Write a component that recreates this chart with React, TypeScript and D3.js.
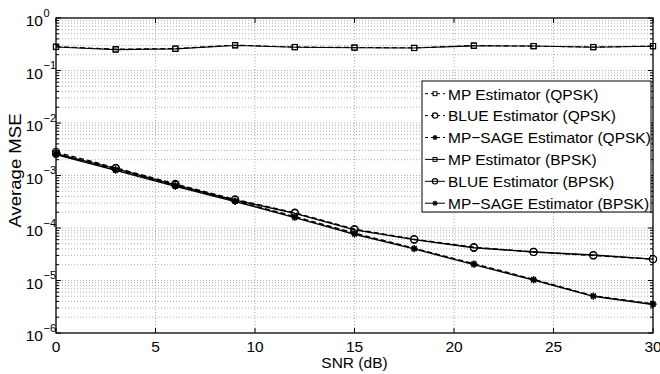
import { useMemo } from 'react';
import * as d3 from 'd3';

const snr = [0, 3, 6, 9, 12, 15, 18, 21, 24, 27, 30];

const mpQpsk = [0.285, 0.255, 0.262, 0.305, 0.28, 0.275, 0.27, 0.3, 0.29, 0.28, 0.292];
const blueQpsk = [2.8e-3, 1.4e-3, 6.9e-4, 3.5e-4, 1.95e-4, 9.5e-5, 6.1e-5, 4.3e-5, 3.5e-5, 3.0e-5, 2.55e-5];
const sageQpsk = [2.6e-3, 1.3e-3, 6.4e-4, 3.3e-4, 1.65e-4, 8.0e-5, 4.1e-5, 2.1e-5, 1.05e-5, 5.1e-6, 3.6e-6];
const mpBpsk = [0.28, 0.25, 0.258, 0.3, 0.278, 0.272, 0.268, 0.295, 0.292, 0.278, 0.29];
const blueBpsk = [2.6e-3, 1.35e-3, 6.6e-4, 3.4e-4, 1.9e-4, 9.2e-5, 6.0e-5, 4.2e-5, 3.5e-5, 3.05e-5, 2.55e-5];
const sageBpsk = [2.5e-3, 1.25e-3, 6.2e-4, 3.2e-4, 1.58e-4, 7.6e-5, 4.0e-5, 2.0e-5, 1.02e-5, 5.0e-6, 3.5e-6];

const seriesNames = [
  'MP Estimator (QPSK)',
  'BLUE Estimator (QPSK)',
  'MP\u2212SAGE Estimator (QPSK)',
  'MP Estimator (BPSK)',
  'BLUE Estimator (BPSK)',
  'MP\u2212SAGE Estimator (BPSK)',
];
const seriesValues = [mpQpsk, blueQpsk, sageQpsk, mpBpsk, blueBpsk, sageBpsk];
const seriesMarkers = ['square', 'circle', 'star', 'square', 'circle', 'star'];
const seriesDashed = [true, true, true, false, false, false];

const xTicks = [0, 5, 10, 15, 20, 25, 30];
const yExponents = [0, -1, -2, -3, -4, -5, -6];

const W = 660;
const H = 374;
const m = { left: 56, right: 653, top: 18, bottom: 333 };
const FONT = 'Liberation Sans, Arial, Helvetica, sans-serif';

const Marker = ({ kind, cx, cy, small }: { kind: string; cx: number; cy: number; small?: boolean }) => {
  const s = small ? 0.75 : 1;
  if (kind === 'square') {
    const h = 2.6 * s;
    return <rect x={cx - h} y={cy - h} width={2 * h} height={2 * h} fill="none" stroke="#000" strokeWidth={1} />;
  }
  if (kind === 'circle') {
    return <circle cx={cx} cy={cy} r={3.6 * s} fill="none" stroke="#000" strokeWidth={1.1} />;
  }
  const r = 3.4 * s;
  const d = r * 0.707;
  return (
    <g stroke="#000" strokeWidth={1.3}>
      <line x1={cx - r} x2={cx + r} y1={cy} y2={cy} />
      <line x1={cx} x2={cx} y1={cy - r} y2={cy + r} />
      <line x1={cx - d} x2={cx + d} y1={cy - d} y2={cy + d} />
      <line x1={cx - d} x2={cx + d} y1={cy + d} y2={cy - d} />
    </g>
  );
};

export default function App() {
  const x = useMemo(() => d3.scaleLinear().domain([0, 30]).range([m.left, m.right]), []);
  const y = useMemo(() => d3.scaleLog().domain([1e-6, 1]).range([m.bottom, m.top]), []);

  const line = d3
    .line<[number, number]>()
    .x((d) => x(d[0]))
    .y((d) => y(d[1]));

  const minorY: number[] = [];
  for (let e = -6; e < 0; e++) {
    for (let k = 2; k <= 9; k++) minorY.push(k * Math.pow(10, e));
  }

  const grid = '#9a9a9a';
  const legendX = 422;
  const legendY = 81;
  const rowH = 21.9;

  return (
    <svg width={W} height={H} style={{ position: 'fixed', left: 0, top: 0, background: '#fff' }} fontFamily={FONT}>
      <rect x={0} y={0} width={W} height={H} fill="#fff" />
      {/* grid */}
      <g stroke={grid} strokeWidth={0.8} strokeDasharray="1,2">
        {xTicks.slice(1, -1).map((t) => (
          <line key={'gx' + t} x1={x(t)} x2={x(t)} y1={m.top} y2={m.bottom} />
        ))}
        {minorY.map((v, i) => (
          <line key={'gmy' + i} x1={m.left} x2={m.right} y1={y(v)} y2={y(v)} />
        ))}
        {yExponents.slice(1, -1).map((e) => (
          <line key={'gy' + e} x1={m.left} x2={m.right} y1={y(Math.pow(10, e))} y2={y(Math.pow(10, e))} />
        ))}
      </g>
      {/* ticks */}
      <g stroke="#000" strokeWidth={1}>
        {xTicks.map((t) => (
          <g key={'tx' + t}>
            <line x1={x(t)} x2={x(t)} y1={m.bottom} y2={m.bottom - 5} />
            <line x1={x(t)} x2={x(t)} y1={m.top} y2={m.top + 5} />
          </g>
        ))}
        {minorY.map((v, i) => (
          <g key={'tmy' + i}>
            <line x1={m.left} x2={m.left + 3} y1={y(v)} y2={y(v)} />
            <line x1={m.right} x2={m.right - 3} y1={y(v)} y2={y(v)} />
          </g>
        ))}
        {yExponents.map((e) => (
          <g key={'ty' + e}>
            <line x1={m.left} x2={m.left + 5} y1={y(Math.pow(10, e))} y2={y(Math.pow(10, e))} />
            <line x1={m.right} x2={m.right - 5} y1={y(Math.pow(10, e))} y2={y(Math.pow(10, e))} />
          </g>
        ))}
      </g>
      {/* series */}
      {seriesValues.map((vals, si) => {
        const pts = snr.map((s, i) => [s, vals[i]] as [number, number]);
        return (
          <g key={'s' + si}>
            <path
              d={line(pts)!}
              fill="none"
              stroke="#000"
              strokeWidth={si % 3 === 0 ? 1.1 : 1.4}
              strokeDasharray={seriesDashed[si] ? '5,3' : undefined}
            />
            {pts.map((p, i) => (
              <Marker key={i} kind={seriesMarkers[si]} cx={x(p[0])} cy={y(p[1])} />
            ))}
          </g>
        );
      })}
      {/* axes box */}
      <rect
        x={m.left}
        y={m.top}
        width={m.right - m.left}
        height={m.bottom - m.top}
        fill="none"
        stroke="#000"
        strokeWidth={1.3}
      />
      {/* tick labels */}
      <g fontSize={15.5} fill="#000">
        {xTicks.map((t) => (
          <text key={'lx' + t} x={x(t)} y={352} textAnchor="middle">
            {t}
          </text>
        ))}
        {yExponents.map((e) => (
          <g key={'ly' + e}>
            <text x={43} y={y(Math.pow(10, e)) + 8} textAnchor="end">
              10
            </text>
            <text x={43.5} y={y(Math.pow(10, e)) - 1.5} fontSize={11}>
              {e === 0 ? '0' : '\u2212' + Math.abs(e)}
            </text>
          </g>
        ))}
      </g>
      {/* axis labels */}
      <text x={(m.left + m.right) / 2} y={368} textAnchor="middle" fontSize={15.5}>
        SNR (dB)
      </text>
      <text
        transform={`translate(21, 170.5) rotate(-90)`}
        textAnchor="middle"
        fontSize={16.5}
        textLength={114}
        lengthAdjust="spacingAndGlyphs"
      >
        Average MSE
      </text>
      {/* legend */}
      <g>
        <rect x={legendX} y={legendY} width={229} height={131} fill="#fff" stroke="#000" strokeWidth={1} />
        {seriesNames.map((name, i) => {
          const cy = legendY + 12.7 + i * rowH;
          return (
            <g key={'lg' + i}>
              <line
                x1={legendX + 3}
                x2={legendX + 23}
                y1={cy}
                y2={cy}
                stroke="#000"
                strokeWidth={1}
                strokeDasharray={seriesDashed[i] ? '3,3' : undefined}
              />
              <Marker kind={seriesMarkers[i]} cx={legendX + 13} cy={cy} small />
              <text x={legendX + 26} y={cy + 5.8} fontSize={15.5}>
                {name}
              </text>
            </g>
          );
        })}
      </g>
    </svg>
  );
}
